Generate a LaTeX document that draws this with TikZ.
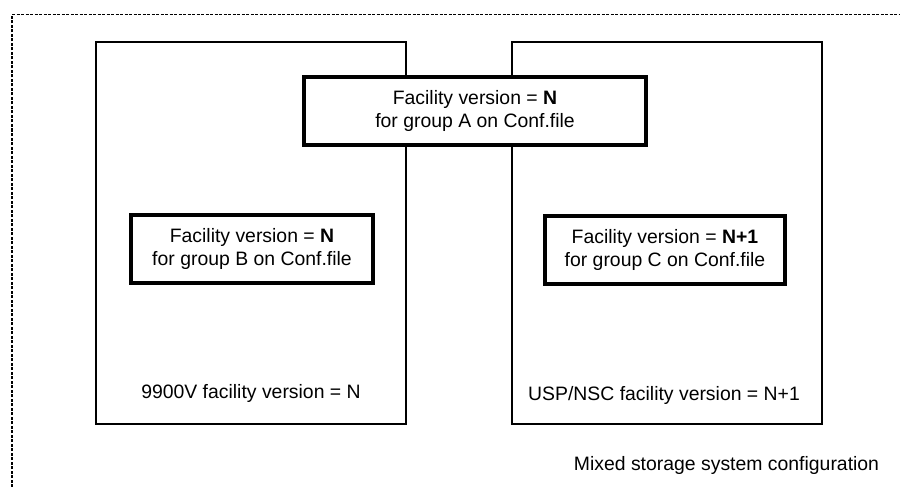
\documentclass[tikz,border=0pt]{standalone}
\usepackage{fontspec}
\setmainfont{Liberation Sans}
\usetikzlibrary{positioning}

\tikzset{
  hostbox/.style={line width=2pt},
  groupbox/.style={draw, line width=4.5pt, fill=white, minimum height=68pt, align=center, inner sep=0pt},
  lbl/.style={align=center, inner sep=0pt}
}

\begin{document}
\begin{tikzpicture}[x=1pt,y=-1pt,every node/.style={font=\fontsize{19.4}{23}\selectfont}]
  \useasboundingbox (0,0) rectangle (900,487);
  % outer configuration frame
  \draw[dash pattern=on 3pt off 1.5pt, line width=1.3pt] (12,487) -- (12,14.5) -- (900,14.5);
  % storage systems
  \draw[hostbox] (96,42) rectangle (406,424);
  \draw[hostbox] (512,42) rectangle (822,424);
  \node[lbl] (ver9900) at (251,393) {9900V facility version = N};
  \node[lbl] (verusp) at (664,395) {USP/NSC facility version = N+1};
  % groups
  \node[groupbox, minimum width=342pt] (grpA) at (475,111) {Facility version = \textbf{N}\\for group A on Conf.file};
  \node[groupbox, minimum width=242pt] (grpB) at (252,249) {Facility version = \textbf{N}\\for group B on Conf.file};
  \node[groupbox, minimum width=240pt] (grpC) at (665,250) {Facility version = \textbf{N+1}\\for group C on Conf.file};
  \node[lbl] (caption) at (726.5,465) {Mixed storage system configuration};
\end{tikzpicture}
\end{document}
